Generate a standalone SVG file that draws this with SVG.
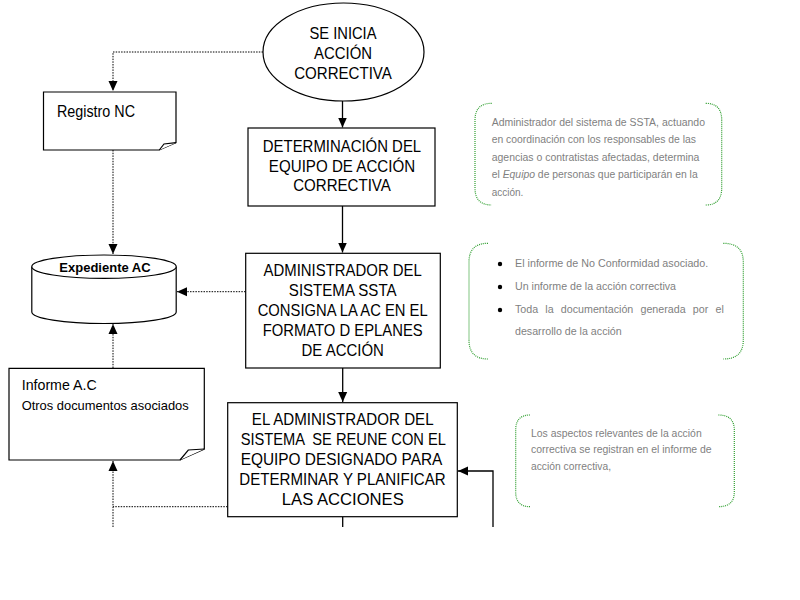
<svg xmlns="http://www.w3.org/2000/svg" width="800" height="600" viewBox="0 0 800 600">
<style>
.shape{fill:#fff;stroke:#000;stroke-width:1.2}
.t{font-family:"Liberation Sans",Arial,sans-serif;fill:#000}
.big{font-size:17px}
.note{font-family:"Liberation Sans",Arial,sans-serif;fill:#7f7f7f;font-size:10.3px}
.br{fill:none;stroke:#2e9e2e;stroke-width:1.2;stroke-dasharray:1 1}
.solid{fill:none;stroke:#000;stroke-width:1.3}
.dot{fill:none;stroke:#000;stroke-width:1;stroke-dasharray:1.5 1.2}
</style>
<defs>
<marker id="ah" markerUnits="userSpaceOnUse" markerWidth="10" markerHeight="10" refX="10" refY="5" orient="auto">
<path d="M0,0.5 L10,5 L0,9.5 z" fill="#000"/>
</marker>
</defs>
<rect width="800" height="600" fill="#fff"/>

<g id="connectors">
<path class="dot" d="M263,52 H113 V91" marker-end="url(#ah)"/>
<path class="solid" d="M342.5,101 V127.5" marker-end="url(#ah)"/>
<path class="dot" d="M113,150 V254" marker-end="url(#ah)"/>
<path class="solid" d="M342.5,206 V252.5" marker-end="url(#ah)"/>
<path class="dot" d="M245.5,291.7 H177" marker-end="url(#ah)"/>
<path class="dot" d="M113,368 V324" marker-end="url(#ah)"/>
<path class="solid" d="M342.7,368 V402" marker-end="url(#ah)"/>
<path class="solid" d="M342.7,516.7 V527"/>
<path class="solid" d="M493,527 V471 H458" marker-end="url(#ah)"/>
<path class="dot" d="M227.5,506.7 H113"/>
<path class="dot" d="M113,527 V461" marker-end="url(#ah)"/>
</g>

<g id="start">
<ellipse class="shape" cx="343.5" cy="52" rx="80.5" ry="49"/>
<text class="t big" text-anchor="middle" x="343" y="39.3" textLength="67" lengthAdjust="spacingAndGlyphs">SE INICIA</text>
<text class="t big" text-anchor="middle" x="343" y="59.3" textLength="58" lengthAdjust="spacingAndGlyphs">ACCIÓN</text>
<text class="t big" text-anchor="middle" x="343" y="79.3" textLength="97.7" lengthAdjust="spacingAndGlyphs">CORRECTIVA</text>
</g>

<g id="registro-nc">
<path class="shape" d="M43.5,92 H176 V142.7 L159.3,150 H43.5 Z"/>
<path class="shape" d="M159.3,150 L164,144 L176,142.7"/>
<text class="t" style="font-size:16px" x="57" y="117" textLength="78" lengthAdjust="spacingAndGlyphs">Registro NC</text>
</g>

<g id="determinacion">
<rect class="shape" x="248" y="128" width="187" height="78"/>
<text class="t big" text-anchor="middle" x="342" y="152" textLength="158.3" lengthAdjust="spacingAndGlyphs">DETERMINACIÓN DEL</text>
<text class="t big" text-anchor="middle" x="342" y="171.5" textLength="146.3" lengthAdjust="spacingAndGlyphs">EQUIPO DE ACCIÓN</text>
<text class="t big" text-anchor="middle" x="342" y="191" textLength="97.7" lengthAdjust="spacingAndGlyphs">CORRECTIVA</text>
</g>

<g id="expediente">
<path class="shape" d="M31.8,266.7 V312 A72.2,11.5 0 0 0 176.2,312 V266.7"/>
<ellipse class="shape" cx="104" cy="266.7" rx="72.2" ry="11.7"/>
<text class="t" style="font-size:13px;font-weight:bold" text-anchor="middle" x="105" y="271.7">Expediente AC</text>
</g>

<g id="administrador">
<rect class="shape" x="245.7" y="253.3" width="194.6" height="114.7"/>
<text class="t big" text-anchor="middle" x="342.7" y="276" textLength="158.3" lengthAdjust="spacingAndGlyphs">ADMINISTRADOR DEL</text>
<text class="t big" text-anchor="middle" x="342.7" y="296" textLength="107.7" lengthAdjust="spacingAndGlyphs">SISTEMA SSTA</text>
<text class="t big" text-anchor="middle" x="342.7" y="316" textLength="170" lengthAdjust="spacingAndGlyphs">CONSIGNA LA AC EN EL</text>
<text class="t big" text-anchor="middle" x="342.7" y="336" textLength="160" lengthAdjust="spacingAndGlyphs">FORMATO D EPLANES</text>
<text class="t big" text-anchor="middle" x="342.7" y="356" textLength="82.3" lengthAdjust="spacingAndGlyphs">DE ACCIÓN</text>
</g>

<g id="informe-ac">
<path class="shape" d="M9,368.3 H204.3 V449 L180,460 H9 Z"/>
<path class="shape" d="M180,460 L188.3,450 L204.3,449"/>
<text class="t" style="font-size:15px" x="21.7" y="390" textLength="75" lengthAdjust="spacingAndGlyphs">Informe A.C</text>
<text class="t" style="font-size:13px" x="21.7" y="410" textLength="167" lengthAdjust="spacingAndGlyphs">Otros documentos asociados</text>
</g>

<g id="reunion">
<rect class="shape" x="227.7" y="402.7" width="229.6" height="114"/>
<text class="t big" text-anchor="middle" x="342.7" y="425" textLength="181.7" lengthAdjust="spacingAndGlyphs">EL ADMINISTRADOR DEL</text>
<text class="t big" text-anchor="middle" x="343.3" y="445" textLength="205.3" lengthAdjust="spacingAndGlyphs" xml:space="preserve">SISTEMA  SE REUNE CON EL</text>
<text class="t big" text-anchor="middle" x="341.5" y="465" textLength="201.7" lengthAdjust="spacingAndGlyphs">EQUIPO DESIGNADO PARA</text>
<text class="t big" text-anchor="middle" x="342.5" y="485" textLength="206.3" lengthAdjust="spacingAndGlyphs">DETERMINAR Y PLANIFICAR</text>
<text class="t big" text-anchor="middle" x="342.8" y="505" textLength="122" lengthAdjust="spacingAndGlyphs">LAS ACCIONES</text>
</g>

<g id="nota-equipo">
<path class="br" d="M491.7,103.3 Q475,103.3 475,120 V188 Q475,205 491.7,205"/>
<path class="br" d="M705.7,103.3 Q721.7,103.3 721.7,120 V188 Q721.7,205 705.7,205"/>
<text class="note" x="491.7" y="125.7" textLength="213.3" lengthAdjust="spacingAndGlyphs">Administrador del sistema de SSTA, actuando</text>
<text class="note" x="491.7" y="143.3" textLength="204.3" lengthAdjust="spacingAndGlyphs">en coordinación con los responsables de las</text>
<text class="note" x="491.7" y="161" textLength="207.7" lengthAdjust="spacingAndGlyphs">agencias o contratistas afectadas, determina</text>
<text class="note" x="491.7" y="178.3" textLength="206" lengthAdjust="spacingAndGlyphs">el <tspan font-style="italic">Equipo</tspan> de personas que participarán en la</text>
<text class="note" x="491.7" y="196" textLength="31.7" lengthAdjust="spacingAndGlyphs">acción.</text>
</g>

<g id="nota-documentos">
<path class="br" d="M488,243.3 Q469,243.3 469,262 V340 Q469,359 488,359"/>
<path class="br" d="M723.3,243.3 Q743.3,243.3 743.3,262 V340 Q743.3,359 723.3,359"/>
<circle cx="500" cy="264" r="2.2" fill="#000"/>
<circle cx="500" cy="287" r="2.2" fill="#000"/>
<circle cx="500" cy="310" r="2.2" fill="#000"/>
<text class="note" style="font-size:10.7px" x="515" y="267.3" textLength="193.3" lengthAdjust="spacingAndGlyphs">El informe de No Conformidad asociado.</text>
<text class="note" style="font-size:10.7px" x="515" y="290" textLength="161" lengthAdjust="spacingAndGlyphs">Un informe de la acción correctiva</text>
<text class="note" style="font-size:10.7px;word-spacing:4.2px" x="515" y="312.7">Toda la documentación generada por el</text>
<text class="note" style="font-size:10.7px" x="515" y="335" textLength="106.7" lengthAdjust="spacingAndGlyphs">desarrollo de la acción</text>
</g>

<g id="nota-informe">
<path class="br" d="M530,415 Q515.7,415 515.7,430 V492 Q515.7,506.7 530,506.7"/>
<path class="br" d="M718.3,415 Q734.3,415 734.3,430 V492 Q734.3,506.7 718.3,506.7"/>
<text class="note" x="531" y="436.7" textLength="170.7" lengthAdjust="spacingAndGlyphs">Los aspectos relevantes de la acción</text>
<text class="note" x="531" y="453.3" textLength="180.7" lengthAdjust="spacingAndGlyphs">correctiva se registran en el informe de</text>
<text class="note" x="531" y="470" textLength="80" lengthAdjust="spacingAndGlyphs">acción correctiva,</text>
</g>
</svg>
